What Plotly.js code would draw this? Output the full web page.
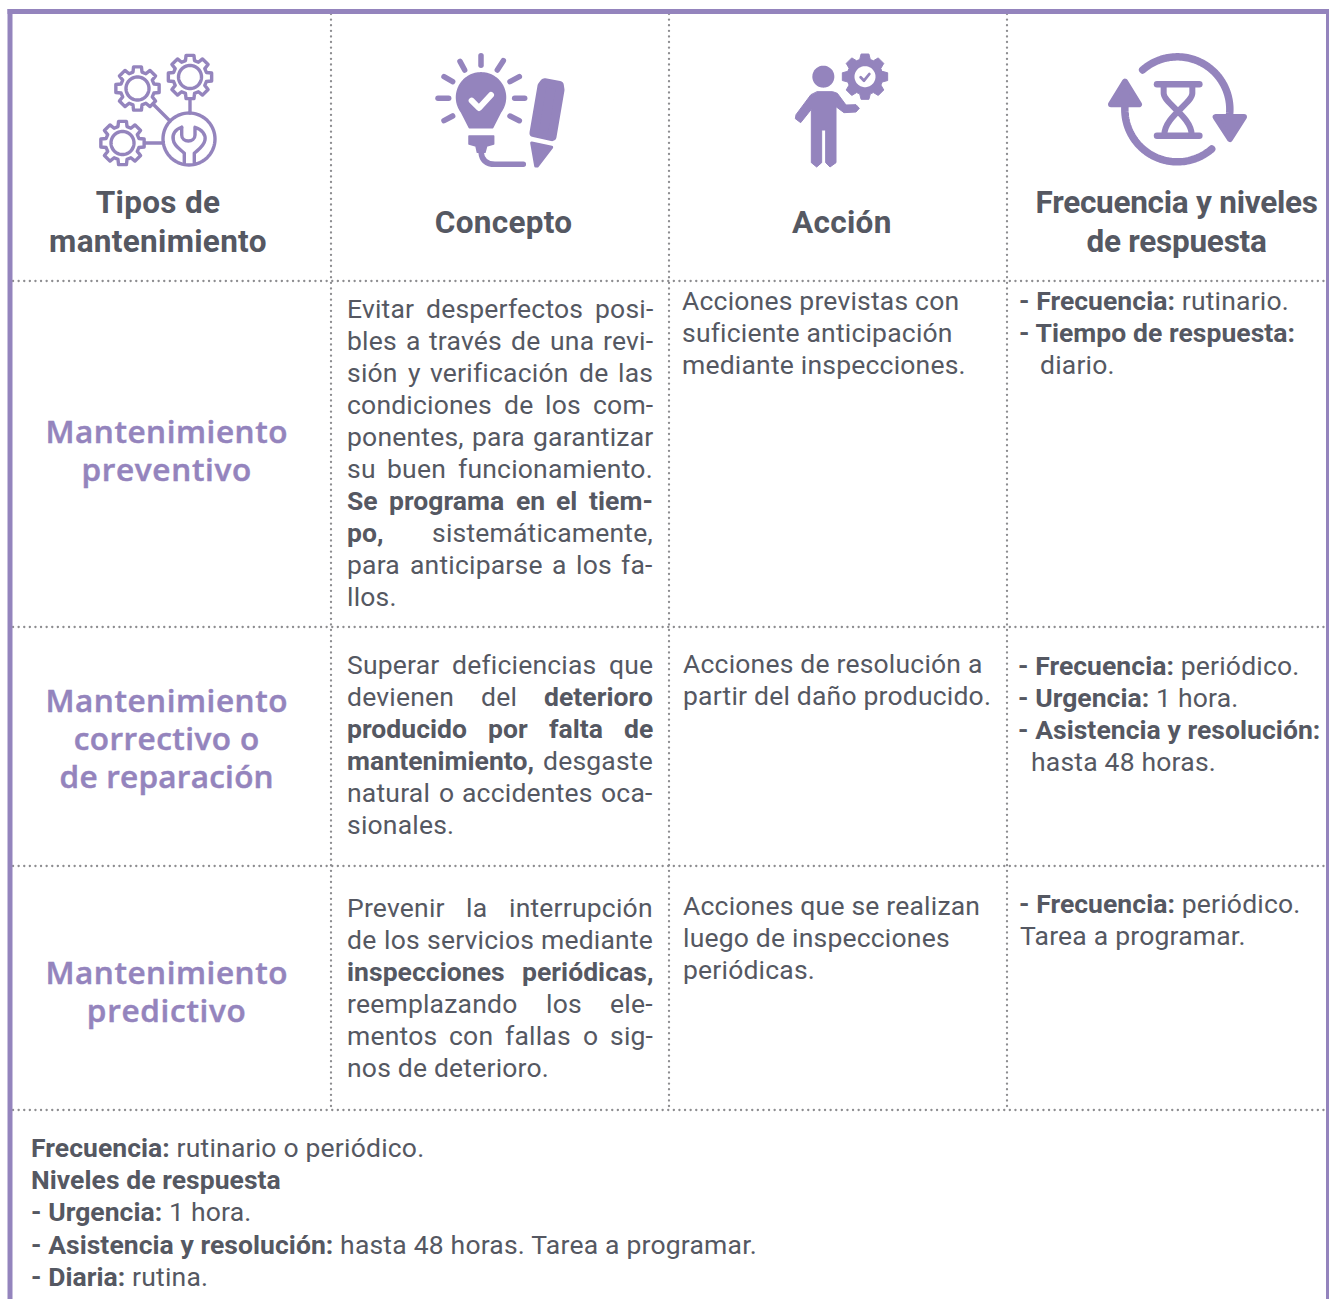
<!DOCTYPE html>
<html lang="es">
<head>
<meta charset="utf-8">
<script src="https://cdn.plot.ly/plotly-3.0.1.min.js"></script>
<style>
html,body{margin:0;padding:0;background:#fff}
.shapelayer path{stroke-linecap:round;stroke-linejoin:round}
.annotation text{letter-spacing:0.2px}
.annotation text tspan[style*="bold"]{letter-spacing:0.05px}
</style>
</head>
<body>
<div id="chart" style="width:1329px;height:1299px"></div>
<script>
// ---------- content ----------
const columnHeaders = [["Tipos de","mantenimiento"],["Concepto"],["Acción"],["Frecuencia y niveles","de respuesta"]];
const rowTitles = [["Mantenimiento","preventivo"],["Mantenimiento","correctivo o","de reparación"],["Mantenimiento","predictivo"]];
const conceptPreventivo = ["Evitar desperfectos posi-","bles a través de una revi-","sión y verificación de las","condiciones de los com-","ponentes, para garantizar","su buen funcionamiento.","<b>Se programa en el tiem-</b>","<b>po,</b> sistemáticamente,","para anticiparse a los fa-","llos."];
const conceptCorrectivo = ["Superar deficiencias que","devienen del <b>deterioro</b>","<b>producido por falta de</b>","<b>mantenimiento,</b> desgaste","natural o accidentes oca-","sionales."];
const conceptPredictivo = ["Prevenir la interrupción","de los servicios mediante","<b>inspecciones periódicas,</b>","reemplazando los ele-","mentos con fallas o sig-","nos de deterioro."];
const accionPreventivo = ["Acciones previstas con","suficiente anticipación","mediante inspecciones."];
const accionCorrectivo = ["Acciones de resolución a","partir del daño producido."];
const accionPredictivo = ["Acciones que se realizan","luego de inspecciones","periódicas."];
const frecPreventivo = ["<b>- Frecuencia:</b> rutinario.","<b>- Tiempo de respuesta:</b>","diario."];
const frecCorrectivo = ["<b>- Frecuencia:</b> periódico.","<b>- Urgencia:</b> 1 hora.","<b>- Asistencia y resolución:</b>","hasta 48 horas."];
const frecPredictivo = ["<b>- Frecuencia:</b> periódico.","Tarea a programar."];
const footerLines = ["<b>Frecuencia:</b> rutinario o periódico.","<b>Niveles de respuesta</b>","<b>- Urgencia:</b> 1 hora.","<b>- Asistencia y resolución:</b> hasta 48 horas. Tarea a programar.","<b>- Diaria:</b> rutina."];

// ---------- style / layout ----------
const PURPLE="#9484bd", INK="#555862", DOT="#8d8d90";
const FONT="Roboto", TITLEFONT="Open Sans", BODY=26.5, HEAD=31.5, TITLE=31.5;
const titleSpacing={"Mantenimiento":"0.55px","preventivo":"0.7px","correctivo o":"0.45px","de reparación":"0.25px","predictivo":"0.7px"};
const shapes=[], annotations=[];

const ctx=document.createElement("canvas").getContext("2d");
function measure(t,bold,size){ctx.font=(bold?"700 ":"400 ")+size+"px "+FONT;if("letterSpacing" in ctx)ctx.letterSpacing=(bold?0.05:0.2)+"px";return ctx.measureText(t).width;}
function note(text,x,y,opt){opt=opt||{};
  annotations.push({text:text,x:x,y:y,xref:"x",yref:"y",showarrow:false,align:opt.anchor||"left",
    xanchor:opt.anchor||"left",yanchor:"middle",borderpad:0,
    font:{family:opt.family||FONT,size:opt.size||BODY,color:opt.color||INK,weight:opt.weight}});
}
function words(line){const out=[];let bold=false;
  line.split(/(<\/?b>)/).forEach(p=>{if(p==="<b>")bold=true;else if(p==="</b>")bold=false;else p.split(/\s+/).filter(Boolean).forEach(w=>out.push({w:w,bold:bold}));});
  return out;}
function justified(lines,x0,x1,y0,dy){lines.forEach((line,i)=>{const y=y0+i*dy;
  if(i===lines.length-1){note(line,x0,y);return;}
  const ws=words(line);const total=ws.reduce((s,o)=>s+measure(o.w,o.bold,BODY),0);
  const gap=(x1-x0-total)/(ws.length-1);let x=x0;
  ws.forEach(o=>{note(o.bold?"<b>"+o.w+"</b>":o.w,x,y);x+=measure(o.w,o.bold,BODY)+gap;});
});}
function plain(lines,xs,y0,dy){lines.forEach((l,i)=>note(l,Array.isArray(xs)?xs[i]:xs,y0+i*dy));}
function centred(lines,x,ys,size,color,weight,family){lines.forEach((l,i)=>note(l,x,ys[i],{anchor:"center",size:size,color:color,weight:weight,family:family}));}

// grid
function rect(x0,y0,x1,y1){shapes.push({type:"rect",xref:"x",yref:"y",x0,y0,x1,y1,fillcolor:PURPLE,line:{width:0}});}
function dotted(x0,y0,x1,y1){shapes.push({type:"line",xref:"x",yref:"y",x0,y0,x1,y1,layer:"below",line:{color:DOT,width:2.3,dash:"0.1px,5.5px"}});}
[281,627,866,1110].forEach(y=>dotted(13,y,1325,y));
[331,669,1007].forEach(x=>dotted(x,14,x,1110));
rect(7.5,9,1329,14);rect(7.5,9,12.5,1299);rect(1326,9,1329,1299);

// icon helpers
function P(pts,close){return "M"+pts.map(p=>p[0].toFixed(2)+","+p[1].toFixed(2)).join("L")+(close?"Z":"");}
function stroke(path,w,color){shapes.push({type:"path",xref:"x",yref:"y",path,line:{color:color||PURPLE,width:w},fillcolor:"rgba(0,0,0,0)"});}
function fill(path,color,lw){const c=color||PURPLE;shapes.push({type:"path",xref:"x",yref:"y",path,fillcolor:c,line:{color:c,width:lw===undefined?1.5:lw}});}
function circlePts(cx,cy,r,a0,a1){const n=72,o=[];a0=a0===undefined?0:a0;a1=a1===undefined?Math.PI*2:a1;for(let i=0;i<=n;i++){const a=a0+(a1-a0)*i/n;o.push([cx+r*Math.cos(a),cy+r*Math.sin(a)]);}return o;}
function gearPts(cx,cy,R,r,n,tip,root,rot){const o=[];rot=rot||0;for(let i=0;i<n;i++){const a=rot+i*2*Math.PI/n;
  [[r,-root],[R,-tip],[R,tip],[r,root]].forEach(q=>o.push([cx+q[0]*Math.cos(a+q[1]),cy+q[0]*Math.sin(a+q[1])]));}return o;}
const Z=(ox,oy)=>(zx,zy)=>[ox+zx/3,oy+zy/3];

// icon 1: gears and wrench
[[137.5,88.5],[190,77],[122.5,143]].forEach(c=>{
  stroke(P(gearPts(c[0],c[1],22,17,8,0.18,0.27,0),true),3.4);
  stroke(P(circlePts(c[0],c[1],11.5),true),3.4);
});
stroke(P(circlePts(189,139,26),true),3.4);
stroke(P([[190,100],[190,113]]),3.4);
stroke(P([[153,104],[170,121]]),3.4);
stroke(P([[145,143],[163,143]]),3.4);
stroke("M181.7,127.3C175,129 172,135 173.3,140C174,146 180,149 184.3,153.3L184.3,164",3.4);
stroke("M194.3,164L194.3,153.3C199,149 204,146 205,140C206,135 202,129 195,127.3L195,135C195,143 181.7,143 181.7,135L181.7,127.3",3.4);

// icon 2: bulb and pencil
const b=Z(420,40);
[[[183,47],[183,76]],[[120,64],[134,90]],[[72,110],[98,125]],[[54,175],[86,175]],[[72,242],[98,228]],
 [[284,175],[314,175]],[[270,125],[298,110]],[[232,90],[250,62]],[[270,228],[298,242]]].forEach(s=>stroke(P([b(...s[0]),b(...s[1])]),5.5));
const bc=b(183,172);
const head=circlePts(bc[0],bc[1],24.5,Math.PI*0.80,Math.PI*2.20);
fill(P([b(148,263),...head,b(218,263)],true));
fill(P([b(147,288),b(221,288),b(221,312),b(200,318),b(195,337),b(172,337),b(168,318),b(147,312)],true));
stroke("M"+b(183,335).join(",")+"Q"+b(186,373).join(",")+" "+b(225,373).join(",")+"L"+b(310,373).join(","),5.5);
stroke(P([b(155,182),b(177,204),b(213,165)]),6,"#ffffff");
fill(P([b(374,128),b(418,136),b(420,150),b(396,290),b(342,278),b(366,138)],true),PURPLE,9);
fill(P([b(335,309),b(395,322),b(352,378),b(347,378)],true),PURPLE,3);

// icon 3: person with gear
const p=Z(780,40);
const hd=p(130,110);
fill(P(circlePts(hd[0],hd[1],11),true),PURPLE,0);
fill(P([p(112,155),p(158,155),p(172,160),p(198,195),p(228,194),p(238,205),p(228,216),p(192,218),p(168,200),p(168,368),p(150,381),p(137,368),p(137,270),p(125,270),p(125,368),p(110,381),p(94,368),p(94,208),p(62,248),p(46,236),p(48,224),p(92,165)],true),PURPLE,1);
const gc=p(255,110);
fill(P(gearPts(gc[0],gc[1],23,18,8,0.17,0.3,0),true),PURPLE,1);
fill(P(circlePts(gc[0],gc[1],10.5),true),"#ffffff",0);
stroke(P([p(242,112),p(252,122),p(268,102)]),2.8);

// icon 4: hourglass and arrows
const h=Z(1095,40), hc=h(247,208), hr=52.5;
stroke(P(circlePts(hc[0],hc[1],hr,Math.atan2(-116,-102),Math.atan2(22,158))),7.5);
stroke(P(circlePts(hc[0],hc[1],hr,Math.atan2(119,103),Math.PI+Math.atan2(13,157))),7.5);
fill(P([h(90,125),h(132,193),h(48,193)],true),PURPLE,6);
fill(P([h(405,297),h(362,231),h(447,231)],true),PURPLE,6);
stroke(P([h(186,133),h(313,133)]),6.5);
stroke(P([h(186,287),h(313,287)]),6.5);
stroke("M"+h(206,135).join(",")+"L"+h(206,160).join(",")+"C"+h(206,190).join(",")+" "+h(290,230).join(",")+" "+h(290,285).join(","),6);
stroke("M"+h(292,135).join(",")+"L"+h(292,160).join(",")+"C"+h(292,190).join(",")+" "+h(208,230).join(",")+" "+h(208,285).join(","),6);

// text
const hx=[158,503,842,1176], hy=[[202,241],[222],[222],[202,241]];
columnHeaders.forEach((c,i)=>centred(c.map(t=>"<b>"+t+"</b>"),hx[i],hy[i],HEAD));
const titleY=[450.5,740,991.5];
rowTitles.forEach((t,i)=>note(t.join("<br>"),166,titleY[i],{anchor:"center",size:TITLE,color:PURPLE,family:TITLEFONT,weight:600}));
justified(conceptPreventivo,346,652,308,32);
justified(conceptCorrectivo,346,652,664,32);
justified(conceptPredictivo,346,652,907,32);
plain(accionPreventivo,681,300,32);
plain(accionCorrectivo,682,663,32);
plain(accionPredictivo,682,905,32);
plain(frecPreventivo,[1018,1018,1039],300,32);
plain(frecCorrectivo,[1016.5,1016.5,1016.5,1030],665,32);
plain(frecPredictivo,[1018,1019],903,32);
plain(footerLines,30,1147,32.4);

Plotly.newPlot("chart",[],{
  width:1329,height:1299,margin:{l:0,r:0,t:0,b:0},
  paper_bgcolor:"#ffffff",plot_bgcolor:"#ffffff",showlegend:false,
  xaxis:{range:[0,1329],visible:false,fixedrange:true},
  yaxis:{range:[1299,0],visible:false,fixedrange:true},
  shapes,annotations
},{displayModeBar:false,staticPlot:true}).then(()=>{
  document.querySelectorAll(".annotation text").forEach(t=>{
    const lines=[...t.querySelectorAll("tspan.line")];
    if(lines.length&&lines.some(l=>titleSpacing[l.textContent])){
      // row titles: heavier look and tighter leading, as in the reference
      t.setAttribute("stroke",PURPLE);t.setAttribute("stroke-width","0.5");
      lines.forEach((l,i)=>{l.style.letterSpacing=titleSpacing[l.textContent];l.setAttribute("dy",(i*38)+"px");});
    } else if(t.textContent==="Frecuencia y niveles"||t.textContent==="de respuesta"){
      t.querySelectorAll("tspan").forEach(s=>s.style.letterSpacing="-0.25px");
    } else if(columnHeaders.flat().includes(t.textContent)){
      t.querySelectorAll("tspan").forEach(s=>s.style.letterSpacing="0.3px");
    }
  });
});
</script>
</body>
</html>
